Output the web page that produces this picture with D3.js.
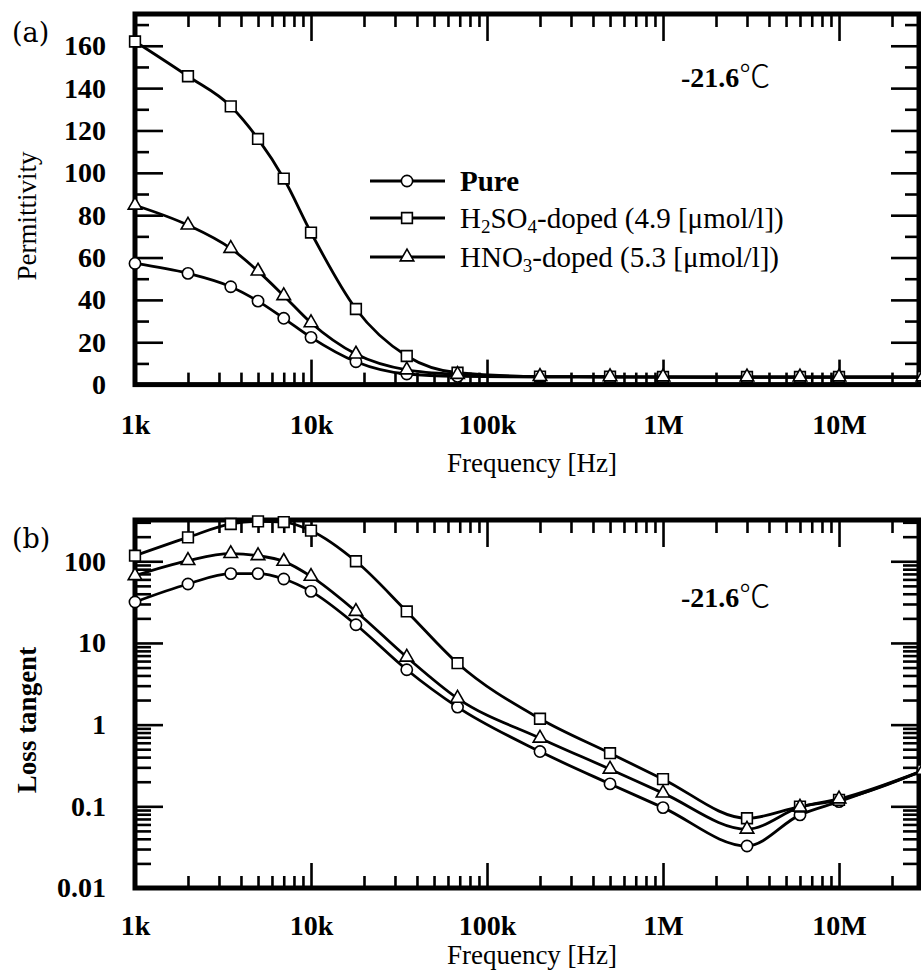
<!DOCTYPE html>
<html><head><meta charset="utf-8">
<script src="https://cdn.jsdelivr.net/npm/d3@7"></script>
<style>
html,body{margin:0;padding:0;background:#fff;}
svg{display:block;}
text{font-family:"Liberation Serif","Times New Roman",serif;fill:#000;}
</style></head>
<body>
<svg id="chart" width="921" height="970"></svg>
<script>
// ---------- DATA ----------
const frequencies = [1e3, 2e3, 3.5e3, 5e3, 7e3, 1e4, 1.8e4, 3.5e4, 6.8e4, 2e5, 5e5, 1e6, 3e6, 6e6, 1e7, 3e7];
const seriesNames = ["Pure", "H2SO4-doped (4.9 [μmol/l])", "HNO3-doped (5.3 [μmol/l])"];
const permPure  = [57.2, 52.5, 46.2, 39.4, 31.3, 22.3, 10.8, 5.0, 3.9, 3.6, 3.5, 3.5, 3.4, 3.4, 3.4, 3.4];
const permH2SO4 = [162, 145.6, 131.4, 116, 97.3, 71.8, 35.7, 13.5, 5.6, 3.8, 3.7, 3.6, 3.6, 3.6, 3.6, 3.6];
const permHNO3  = [84.7, 75.3, 64.3, 53.6, 42, 29.2, 14.4, 6.9, 4.8, 3.8, 3.7, 3.6, 3.6, 3.6, 3.6, 3.6];
const tanPure  = [31.7, 52.7, 70.5, 70.5, 60.7, 42.8, 16.7, 4.7, 1.64, 0.468, 0.188, 0.0964, 0.0327, 0.0785, 0.114, 0.27];
const tanH2SO4 = [117, 196, 286, 308, 302, 237, 100, 24.3, 5.65, 1.18, 0.447, 0.215, 0.0715, 0.099, 0.12, 0.275];
const tanHNO3  = [66.6, 102, 124, 117, 99.8, 65.3, 24.3, 6.7, 2.1, 0.683, 0.285, 0.145, 0.0524, 0.0975, 0.123, 0.275];
const xTickValues = [1e3, 1e4, 1e5, 1e6, 1e7];
const xTickLabels = ["1k", "10k", "100k", "1M", "10M"];
const permTickValues = [0, 20, 40, 60, 80, 100, 120, 140, 160];
const tanTickValues = [0.01, 0.1, 1, 10, 100];
const tanTickLabels = ["0.01", "0.1", "1", "10", "100"];
const tempLabel = "-21.6";

// ---------- LAYOUT ----------
const svg = d3.select("#chart");
const L = 135, R = 919;
const x = d3.scaleLog().domain([1e3, 3e7]).range([135, 923]);

const panels = [
  {top: 14, bottom: 384.6, y: d3.scaleLinear().domain([0, 175]).range([384.6, 14]),
   data: [permPure, permH2SO4, permHNO3], letter: "(a)", letterY: 42, ylabel: "Permittivity",
   ylabelY: 216, ylabelBold: false, tempY: 87, xlabY: 472, xtickY: 30, kind: "lin"},
  {top: 520, bottom: 888, y: d3.scaleLog().domain([0.01, 320]).range([888, 520]),
   data: [tanPure, tanH2SO4, tanHNO3], letter: "(b)", letterY: 548, ylabel: "Loss tangent",
   ylabelY: 720, ylabelBold: true, tempY: 607, xlabY: 964, xtickY: 27, kind: "log"}
];

const symbols = [d3.symbolCircle, d3.symbolSquare, d3.symbolTriangle];
const symSizes = [100, 115, 80];

function minorX() {
  const v = [];
  for (let d = 1e3; d < 3e7; d *= 10) for (let k = 2; k <= 9; k++) if (d * k <= 3e7) v.push(d * k);
  return v;
}
function minorLog(lo, hi) {
  const v = [];
  for (let d = lo; d < hi; d *= 10) for (let k = 2; k <= 9; k++) if (d * k <= hi) v.push(d * k);
  return v;
}

function styleAxis(g) {
  g.select(".domain").remove();
  g.selectAll("line").attr("stroke", "#000").attr("stroke-width", 2.6);
  g.selectAll("text").style("font-family", '"Liberation Serif","Times New Roman",serif')
    .style("font-size", "28px").style("font-weight", "bold").attr("fill", "#000");
}

panels.forEach(p => {
  const y = p.y;
  const g = svg.append("g");
  // minor/major x ticks bottom & top
  g.append("g").attr("transform", `translate(0,${p.bottom})`)
    .call(d3.axisBottom(x).tickValues(minorX()).tickSize(-12).tickFormat("")).call(styleAxis);
  g.append("g").attr("transform", `translate(0,${p.bottom})`)
    .call(d3.axisBottom(x).tickValues(xTickValues).tickSize(-25).tickPadding(p.xtickY)
      .tickFormat((d, i) => xTickLabels[i])).call(styleAxis);
  g.append("g").attr("transform", `translate(0,${p.top})`)
    .call(d3.axisTop(x).tickValues(minorX()).tickSize(-13).tickFormat("")).call(styleAxis);
  g.append("g").attr("transform", `translate(0,${p.top})`)
    .call(d3.axisTop(x).tickValues(xTickValues).tickSize(-27).tickFormat("")).call(styleAxis);

  // y ticks
  let yMinor, yMajor, yFmt;
  if (p.kind === "lin") {
    yMinor = d3.range(10, 180, 20);
    yMajor = permTickValues;
    yFmt = d => d;
  } else {
    yMinor = minorLog(0.01, 320);
    yMajor = tanTickValues;
    yFmt = (d, i) => tanTickLabels[i];
  }
  const minorLen = p.kind === "lin" ? 14 : 16;
  g.append("g").attr("transform", `translate(${L},0)`)
    .call(d3.axisLeft(y).tickValues(yMinor).tickSize(-minorLen).tickFormat("")).call(styleAxis);
  g.append("g").attr("transform", `translate(${L},0)`)
    .call(d3.axisLeft(y).tickValues(yMajor).tickSize(-28).tickPadding(29).tickFormat(yFmt)).call(styleAxis);
  g.append("g").attr("transform", `translate(${R},0)`)
    .call(d3.axisRight(y).tickValues(yMinor).tickSize(-minorLen).tickFormat("")).call(styleAxis);
  g.append("g").attr("transform", `translate(${R},0)`)
    .call(d3.axisRight(y).tickValues(yMajor).tickSize(-28).tickFormat("")).call(styleAxis);

  // frame
  g.append("rect").attr("x", L).attr("y", p.top).attr("width", R - L).attr("height", p.bottom - p.top)
    .attr("fill", "none").attr("stroke", "#000").attr("stroke-width", 5);

  // curves
  const line = d3.line().x((d, i) => x(frequencies[i])).y(d => y(d)).curve(d3.curveMonotoneX);
  p.data.forEach((vals, si) => {
    g.append("path").datum(vals).attr("d", line).attr("fill", "none")
      .attr("stroke", "#000").attr("stroke-width", 2.8);
  });
  p.data.forEach((vals, si) => {
    g.selectAll(null).data(vals).enter().append("path")
      .attr("d", d3.symbol().type(symbols[si]).size(symSizes[si]))
      .attr("transform", (d, i) => `translate(${x(frequencies[i])},${y(d)})`)
      .attr("fill", "#fff").attr("stroke", "#000").attr("stroke-width", 1.6);
  });

  // panel letter
  svg.append("text").attr("x", 12).attr("y", p.letterY).style("font-family", '"DejaVu Serif",serif')
    .style("font-size", "27px").text(p.letter);
  // y label
  svg.append("text").attr("transform", `translate(36,${p.ylabelY}) rotate(-90)`)
    .attr("text-anchor", "middle").style("font-size", "27px")
    .style("font-weight", p.ylabelBold ? "bold" : "normal").text(p.ylabel);
  // x label
  svg.append("text").attr("x", 532).attr("y", p.xlabY).attr("text-anchor", "middle")
    .style("font-size", "27px").text("Frequency [Hz]");
  // temperature
  const t = svg.append("text").attr("x", 681).attr("y", p.tempY).style("font-size", "28px");
  t.append("tspan").style("font-weight", "bold").text(tempLabel);
  t.append("tspan").style("font-family", '"Noto Sans CJK JP",sans-serif').style("font-size", "31px")
    .style("font-weight", "300").text("℃");
});

// legend
const legY = [181, 218, 257];
const leg = svg.append("g");
legY.forEach((ly, i) => {
  leg.append("line").attr("x1", 370).attr("x2", 445).attr("y1", ly).attr("y2", ly)
    .attr("stroke", "#000").attr("stroke-width", 2.8);
  leg.append("path").attr("d", d3.symbol().type(symbols[i]).size(symSizes[i]))
    .attr("transform", `translate(407,${ly})`).attr("fill", "#fff").attr("stroke", "#000").attr("stroke-width", 1.6);
});
leg.append("text").attr("x", 460).attr("y", legY[0]).attr("dy", "0.35em").style("font-size", "29px")
  .style("font-weight", "bold").text(seriesNames[0]);
const t2 = leg.append("text").attr("x", 460).attr("y", legY[1]).attr("dy", "0.35em").style("font-size", "29px");
t2.append("tspan").text("H");
t2.append("tspan").attr("dy", "0.25em").style("font-size", "19px").text("2");
t2.append("tspan").attr("dy", "-0.16em").text("SO");
t2.append("tspan").attr("dy", "0.25em").style("font-size", "19px").text("4");
t2.append("tspan").attr("dy", "-0.16em").text("-doped (4.9 [μmol/l])");
const t3 = leg.append("text").attr("x", 460).attr("y", legY[2]).attr("dy", "0.35em").style("font-size", "29px");
t3.append("tspan").text("HNO");
t3.append("tspan").attr("dy", "0.25em").style("font-size", "19px").text("3");
t3.append("tspan").attr("dy", "-0.16em").text("-doped (5.3 [μmol/l])");
</script>
</body></html>
